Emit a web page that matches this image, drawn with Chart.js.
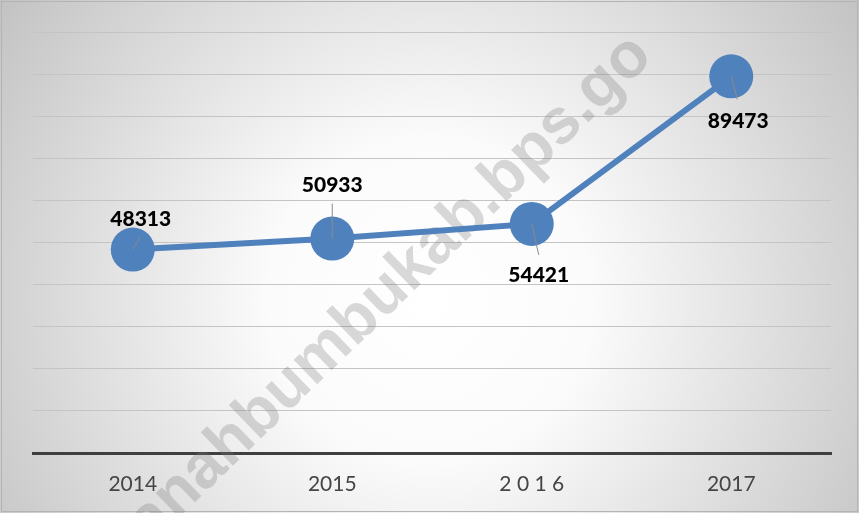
<!DOCTYPE html>
<html>
<head>
<meta charset="utf-8">
<script src="https://cdn.jsdelivr.net/npm/chart.js@4.4.1/dist/chart.umd.min.js"></script>
<style>
  html, body { margin: 0; padding: 0; background: #fff; }
  #wrap { width: 859px; height: 513px; position: relative; }
</style>
</head>
<body>
<div id="wrap"><canvas id="lineChart"></canvas></div>
<script>
// Données
const years = ['2014', '2015', '2 0 1 6', '2017'];
const values = [48313, 50933, 54421, 89473];
const yMin = 0;
const yMax = 100000;
const yStep = 10000;

// Placement des étiquettes (dx, dy du texte ; fin du trait de rappel)
const labelPlacement = [
    { dx: 8, dy: -30, lx: 7, ly: -12 },
    { dx: 0, dy: -53, lx: 0, ly: -35 },
    { dx: 7, dy: 51, lx: 7, ly: 31 },
    { dx: 7, dy: 45, lx: 6, ly: 23 }
];

// Fond en dégradé radial + filigrane
const backdrop = {
    id: 'backdrop',
    beforeDraw(chart) {
        const ctx = chart.ctx;
        const w = chart.width, h = chart.height;
        ctx.save();
        const g = ctx.createRadialGradient(430, 300, 0, 430, 300, 540);
        g.addColorStop(0, '#ffffff');
        g.addColorStop(0.3, '#fbfbfb');
        g.addColorStop(1, '#c0c0c0');
        ctx.fillStyle = g;
        ctx.fillRect(0, 0, w, h);
        ctx.strokeStyle = '#b4b4b4';
        ctx.lineWidth = 1;
        ctx.strokeRect(1.5, 1.5, w - 3, h - 3);
        ctx.restore();
    },
    beforeDatasetsDraw(chart) {
        const ctx = chart.ctx;
        ctx.save();
        ctx.translate(642, 46);
        ctx.rotate(-44 * Math.PI / 180);
        ctx.font = 'bold 64px "Liberation Sans", Arial, sans-serif';
        ctx.fillStyle = 'rgba(120,120,120,0.28)';
        ctx.textAlign = 'right';
        ctx.textBaseline = 'middle';
        ctx.fillText('tanahbumbukab.bps.go', 0, 0);
        ctx.restore();
    }
};

// Étiquettes de valeurs avec traits de rappel
const valueLabels = {
    id: 'valueLabels',
    afterDatasetsDraw(chart) {
        const ctx = chart.ctx;
        const meta = chart.getDatasetMeta(0);
        ctx.save();
        meta.data.forEach(function(pt, i) {
            const p = labelPlacement[i];
            ctx.strokeStyle = '#8a8a8a';
            ctx.lineWidth = 1;
            ctx.beginPath();
            ctx.moveTo(pt.x, pt.y);
            ctx.lineTo(pt.x + p.lx, pt.y + p.ly);
            ctx.stroke();
            ctx.fillStyle = '#000000';
            ctx.font = '900 21px Lato, "Open Sans", sans-serif';
            ctx.textAlign = 'center';
            ctx.textBaseline = 'middle';
            ctx.fillText(String(values[i]), pt.x + p.dx, pt.y + p.dy);
        });
        ctx.restore();
    }
};

new Chart(document.getElementById('lineChart'), {
    type: 'line',
    data: {
        labels: years,
        datasets: [{
            data: values,
            borderColor: '#4f81bd',
            backgroundColor: '#4f81bd',
            borderWidth: 6,
            pointRadius: 22,
            pointHoverRadius: 22,
            pointBorderWidth: 0,
            pointBackgroundColor: '#4f81bd',
            tension: 0
        }]
    },
    options: {
        responsive: true,
        maintainAspectRatio: false,
        animation: false,
        layout: { padding: { left: 33, right: 28, top: 32, bottom: 0 } },
        scales: {
            x: {
                offset: true,
                grid: { display: false, drawTicks: false },
                border: { display: true, color: '#3f3f3f', width: 3 },
                ticks: {
                    color: '#454545',
                    font: { family: 'Lato, "Open Sans", sans-serif', size: 21 },
                    padding: 19,
                    maxRotation: 0
                },
                afterFit: function(axis) { axis.height = 60; }
            },
            y: {
                min: yMin,
                max: yMax,
                ticks: { display: false, stepSize: yStep },
                grid: { color: '#c4c4c4', lineWidth: 1, drawTicks: false },
                border: { display: false },
                afterFit: function(axis) { axis.width = 0; }
            }
        },
        plugins: {
            legend: { display: false },
            tooltip: { enabled: false }
        }
    },
    plugins: [backdrop, valueLabels]
});
</script>
</body>
</html>
